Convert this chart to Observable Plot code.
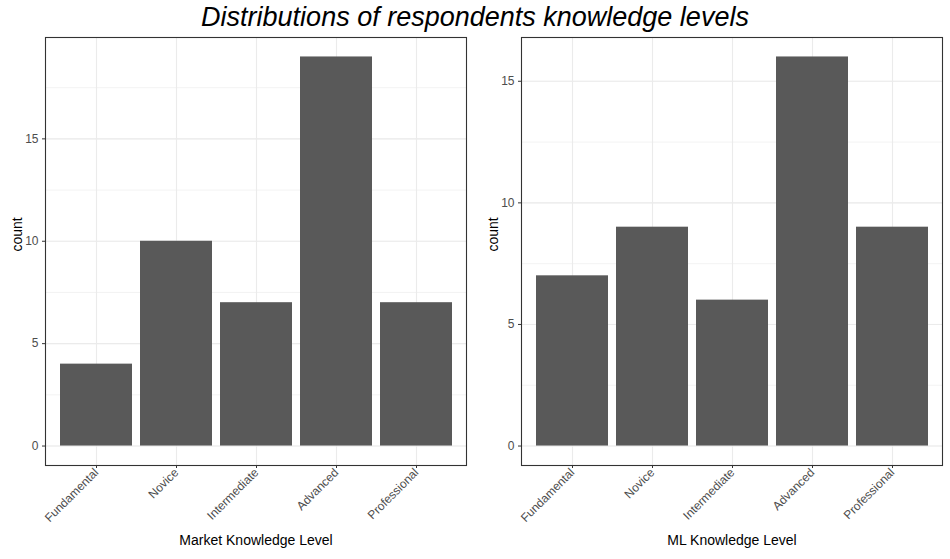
<!DOCTYPE html>
<html><head><meta charset="utf-8">
<script src="https://cdn.jsdelivr.net/npm/d3@7"></script>
<script src="https://cdn.jsdelivr.net/npm/@observablehq/plot@0.6"></script>
<style>
body{margin:0;background:#fff;font-family:"Liberation Sans",Arial,sans-serif;}
#wrap{position:relative;width:950px;height:559px;}
#title{position:absolute;left:0;top:0;width:950px;text-align:center;font-style:italic;font-size:27px;line-height:34px;color:#000;}
.panel{position:absolute;top:0;}
</style></head><body>
<div id="wrap"><div id="title">Distributions of respondents knowledge levels</div></div>
<script>
const levels = ['Fundamental', 'Novice', 'Intermediate', 'Advanced', 'Professional'];
const marketCounts = [4, 10, 7, 19, 7];
const mlCounts = [7, 9, 6, 16, 9];

function panel(counts, xlabel, left) {
  const data = levels.map((l, i) => ({level: l, count: counts[i]}));
  const max = d3.max(counts);
  const ticks = max > 16 ? [0, 5, 10, 15] : [0, 5, 10, 15];
  const minor = d3.range(0, max * 1.05, 2.5);
  const chart = Plot.plot({
    width: 470, height: 559,
    marginLeft: 45, marginRight: 4, marginTop: 37, marginBottom: 94,
    style: {fontFamily: '"Liberation Sans",Arial,sans-serif', fontSize: '12px', background: 'transparent'},
    x: {domain: levels, paddingInner: 0.1, paddingOuter: 0.15, label: null},
    y: {domain: [-0.05 * max, 1.05 * max], label: null},
    marks: [
      Plot.ruleY(minor, {stroke: '#ebebeb', strokeWidth: 0.6}),
      Plot.ruleY(ticks, {stroke: '#ebebeb', strokeWidth: 1.1}),
      Plot.tickX(levels, {x: d => d, stroke: '#ebebeb', strokeWidth: 1.1}),
      Plot.barY(data, {x: 'level', y1: 0, y2: 'count', fill: '#595959'}),
      Plot.frame({stroke: '#333', strokeWidth: 1.1}),
      Plot.axisY({ticks, tickSize: 3, tickPadding: 4, fill: '#4d4d4d', stroke: '#333', label: null}),
      Plot.axisX({tickSize: 3, tickRotate: -45, textAnchor: 'end', tickPadding: 2, fill: '#4d4d4d', stroke: '#333', label: null, fontSize: 12}),
      Plot.text([xlabel], {frameAnchor: 'bottom', dy: 79, fontSize: 14, fill: '#000'}),
      Plot.text(['count'], {frameAnchor: 'left', dx: -28, rotate: -90, fontSize: 14, fill: '#000'})
    ]
  });
  chart.classList.add('panel');
  chart.style.left = left + 'px';
  document.getElementById('wrap').append(chart);
}
panel(marketCounts, 'Market Knowledge Level', 0);
panel(mlCounts, 'ML Knowledge Level', 476);
</script>
</body></html>
